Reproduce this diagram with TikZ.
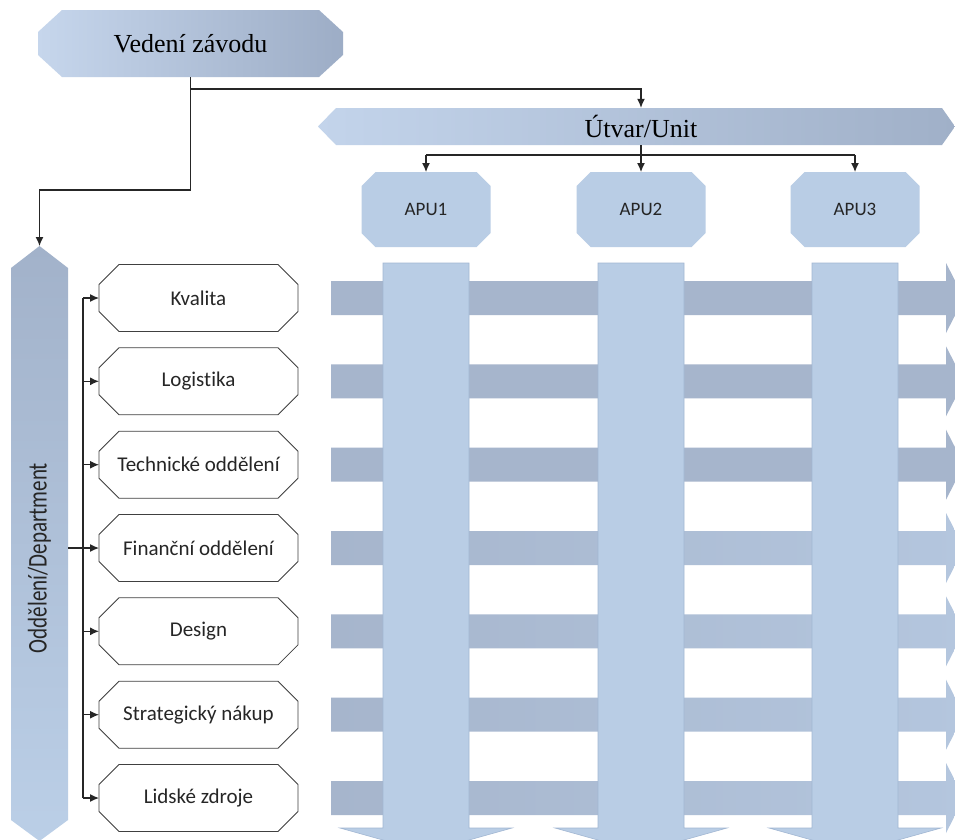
\documentclass[tikz,border=0pt]{standalone}
\usepackage{fontspec}
\newfontfamily\rmtimes{Liberation Serif}
\newfontfamily\sfcal[Ligatures={NoCommon}]{Carlito}
\usetikzlibrary{arrows.meta,backgrounds}
% chamfered outline round a node: options, node, x chamfer, y chamfer
\newcommand{\octo}[4][]{%
  \path[#1] ([xshift=#3]#2.north west) -- ([xshift=-#3]#2.north east) -- ([yshift=-#4]#2.north east)
    -- ([yshift=#4]#2.south east) -- ([xshift=-#3]#2.south east) -- ([xshift=#3]#2.south west)
    -- ([yshift=#4]#2.south west) -- ([yshift=-#4]#2.north west) -- cycle;}
\tikzset{
  deptbox/.style={rectangle,minimum width=199pt,minimum height=67pt,inner sep=0pt,outer sep=0pt,
    font=\sfcal\fontsize{21}{24}\selectfont,text=black!85},
  apubox/.style={rectangle,minimum width=129pt,minimum height=75pt,inner sep=0pt,outer sep=0pt,
    font=\sfcal\fontsize{19}{22}\selectfont,text=black!85},
  conn/.style={draw=black!85,line width=1.2pt,-{Latex[length=9pt,width=8pt]}},
  link/.style={draw=black!85,line width=1.2pt},
}

\begin{document}
\begin{tikzpicture}[x=1pt,y=-1pt,line join=miter]
\definecolor{apublue}{HTML}{B9CDE5}
\definecolor{colblue}{HTML}{B9CDE5}
\definecolor{coledge}{HTML}{A2B7D3}
\definecolor{bargrey}{HTML}{A6B5CC}
\definecolor{barlite}{HTML}{B4C6DE}
\definecolor{headl}{HTML}{C6D6EC}
\definecolor{headr}{HTML}{9DADC6}
\definecolor{unitl}{HTML}{C3D4EB}
\definecolor{unitr}{HTML}{A0B0C8}
\definecolor{deptt}{HTML}{A2B2CA}
\definecolor{deptb}{HTML}{BBCFE7}
\useasboundingbox (0,0) rectangle (955,839);
\clip (0,0) rectangle (955,839);
\begin{scope}[shift={(0,298)}]
\fill[bargrey] (331,-17) -- (946,-17) -- (946,-35) -- (964,0) -- (946,35) -- (946,17) -- (331,17) -- cycle;
\end{scope}
\begin{scope}[shift={(0,381.3)}]
\fill[bargrey] (331,-17) -- (946,-17) -- (946,-35) -- (964,0) -- (946,35) -- (946,17) -- (331,17) -- cycle;
\end{scope}
\begin{scope}[shift={(0,464.7)}]
\fill[bargrey] (331,-17) -- (946,-17) -- (946,-35) -- (964,0) -- (946,35) -- (946,17) -- (331,17) -- cycle;
\end{scope}
\begin{scope}[shift={(0,548)}]
\shade[left color=bargrey,right color=barlite] (331,-17) -- (946,-17) -- (946,-35) -- (964,0) -- (946,35) -- (946,17) -- (331,17) -- cycle;
\end{scope}
\begin{scope}[shift={(0,631.3)}]
\shade[left color=bargrey,right color=barlite] (331,-17) -- (946,-17) -- (946,-35) -- (964,0) -- (946,35) -- (946,17) -- (331,17) -- cycle;
\end{scope}
\begin{scope}[shift={(0,714.7)}]
\shade[left color=bargrey,right color=barlite] (331,-17) -- (946,-17) -- (946,-35) -- (964,0) -- (946,35) -- (946,17) -- (331,17) -- cycle;
\end{scope}
\begin{scope}[shift={(0,798)}]
\shade[left color=bargrey,right color=barlite] (331,-17) -- (946,-17) -- (946,-35) -- (964,0) -- (946,35) -- (946,17) -- (331,17) -- cycle;
\end{scope}
\begin{scope}[shift={(426,0)}]
\filldraw[fill=colblue,draw=coledge,line width=0.6pt] (-43,263) -- (43,263) -- (43,828) -- (86,828) -- (0,852) -- (-86,828) -- (-43,828) -- cycle;
\end{scope}
\begin{scope}[shift={(641,0)}]
\filldraw[fill=colblue,draw=coledge,line width=0.6pt] (-43,263) -- (43,263) -- (43,828) -- (86,828) -- (0,852) -- (-86,828) -- (-43,828) -- cycle;
\end{scope}
\begin{scope}[shift={(855,0)}]
\filldraw[fill=colblue,draw=coledge,line width=0.6pt] (-43,263) -- (43,263) -- (43,828) -- (86,828) -- (0,852) -- (-86,828) -- (-43,828) -- cycle;
\end{scope}
\node[rectangle,minimum width=305pt,minimum height=67pt,inner sep=0pt,outer sep=0pt,
  font=\rmtimes\fontsize{26}{30}\selectfont] (ved) at (190.5,43.5) {Vedení závodu};
\shade[left color=unitl,right color=unitr] (318,126.5) -- (336,108) -- (942,108) -- (955,126.5) -- (942,145) -- (336,145) -- cycle;
\node[minimum width=120pt,minimum height=37pt,inner sep=0pt,font=\rmtimes\fontsize{26}{30}\selectfont] (unit) at (641,126.5) {Útvar/Unit};
\shade[top color=deptt,bottom color=deptb] (11,268) -- (39.5,246) -- (68,268) -- (68,820) -- (39.5,841) -- (11,820) -- cycle;
\node[font=\sfcal\fontsize{27}{30}\selectfont,text=black!85] (dept) at (39.5,558) {\rotatebox{90}{\scalebox{0.78}[1]{Oddělení/Department}}};
\coordinate (depttop) at (39.5,246);
\coordinate (deptr) at (68,548);
\coordinate (bus) at (83,548);
\coordinate (ubus) at (641,155);
\node[apubox] (apu1) at (426,209.5) {APU1};
\node[apubox] (apu2) at (641,209.5) {APU2};
\node[apubox] (apu3) at (855,209.5) {APU3};
\node[deptbox] (kval) at (198.5,298) {Kvalita};
\node[deptbox] (logi) at (198.5,381.3) {Logistika};
\node[deptbox] (tech) at (198.5,464.7) {Technické oddělení};
\node[deptbox] (fin) at (198.5,548) {Finanční oddělení};
\node[deptbox] (des) at (198.5,631.3) {Design};
\node[deptbox] (nak) at (198.5,714.7) {Strategický nákup};
\node[deptbox] (lid) at (198.5,798) {Lidské zdroje};
\begin{scope}[on background layer]
\fill[white] (0,0) rectangle (955,839);
\octo[shade,left color=headl,right color=headr]{ved}{24pt}{22pt}
\octo[fill=apublue]{apu1}{14pt}{14pt}
\octo[fill=apublue]{apu2}{14pt}{14pt}
\octo[fill=apublue]{apu3}{14pt}{14pt}
\octo[draw=black!75,line width=0.8pt]{kval}{20pt}{20pt}
\octo[draw=black!75,line width=0.8pt]{logi}{20pt}{20pt}
\octo[draw=black!75,line width=0.8pt]{tech}{20pt}{20pt}
\octo[draw=black!75,line width=0.8pt]{fin}{20pt}{20pt}
\octo[draw=black!75,line width=0.8pt]{des}{20pt}{20pt}
\octo[draw=black!75,line width=0.8pt]{nak}{20pt}{20pt}
\octo[draw=black!75,line width=0.8pt]{lid}{20pt}{20pt}
\end{scope}
\draw[conn] (ved.south) -- ++(0,12) -| (unit.north);
\draw[conn] (ved.south) -- ++(0,113) -| (depttop);
\draw[conn] (unit.south) -- (apu2.north);
\draw[link] (apu1.north |- ubus) -- (apu3.north |- ubus);
\draw[conn] (apu1.north |- ubus) -- (apu1.north);
\draw[conn] (apu3.north |- ubus) -- (apu3.north);
\draw[link] (deptr) -- (bus);
\draw[link] (kval.west -| bus) -- (lid.west -| bus);
\draw[conn] (kval.west -| bus) -- (kval.west);
\draw[conn] (logi.west -| bus) -- (logi.west);
\draw[conn] (tech.west -| bus) -- (tech.west);
\draw[conn] (fin.west -| bus) -- (fin.west);
\draw[conn] (des.west -| bus) -- (des.west);
\draw[conn] (nak.west -| bus) -- (nak.west);
\draw[conn] (lid.west -| bus) -- (lid.west);
\end{tikzpicture}
\end{document}
